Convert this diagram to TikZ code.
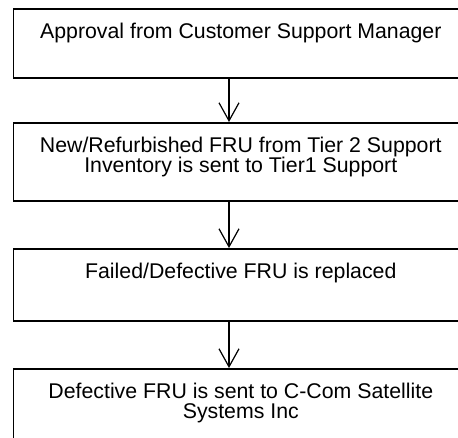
\documentclass[tikz,border=0pt]{standalone}
\usepackage{fontspec}
\setmainfont{Liberation Sans}
\usepackage{tikz}
\usetikzlibrary{arrows.meta,calc}
\newcommand{\stagefont}{\fontsize{21.3}{20}\selectfont}
\tikzset{
stagebox/.style={draw=black, line width=1.6pt, anchor=north west, minimum width=455pt, inner sep=0pt},
stagetext/.style={anchor=north, align=center, inner sep=0pt, font=\stagefont},
flowarrow/.style={line width=1.2pt, -{Straight Barb[length=18pt,width=20pt,line width=1.2pt]}}
}
\begin{document}
\begin{tikzpicture}[x=1pt,y=-1pt]
\useasboundingbox (0,0) rectangle (458,437);
\clip (0,0) rectangle (458,437);
\node[stagebox, minimum height=69pt] (approval) at (12.5,8) {};
\node[stagebox, minimum height=78pt] (inventory) at (12.5,122) {};
\node[stagebox, minimum height=72pt] (replace) at (12.5,248) {};
\node[stagebox, minimum height=90pt] (return) at (12.5,368) {};
\node[stagetext] (approvaltext) at ($(approval.north)+(0,15)$) {Approval from Customer Support Manager};
\node[stagetext] (inventorytext) at ($(inventory.north)+(0,15)$) {New/Refurbished FRU from Tier 2 Support\\Inventory is sent to Tier1 Support};
\node[stagetext] (replacetext) at ($(replace.north)+(0,15)$) {Failed/Defective FRU is replaced};
\node[stagetext] (returntext) at ($(return.north)+(0,15)$) {Defective FRU is sent to C-Com Satellite\\Systems Inc};
\coordinate (ax) at (229,0);
\draw[flowarrow] (approval.south -| ax) -- (inventory.north -| ax);
\draw[flowarrow] (inventory.south -| ax) -- (replace.north -| ax);
\draw[flowarrow] (replace.south -| ax) -- (return.north -| ax);
\end{tikzpicture}
\end{document}
